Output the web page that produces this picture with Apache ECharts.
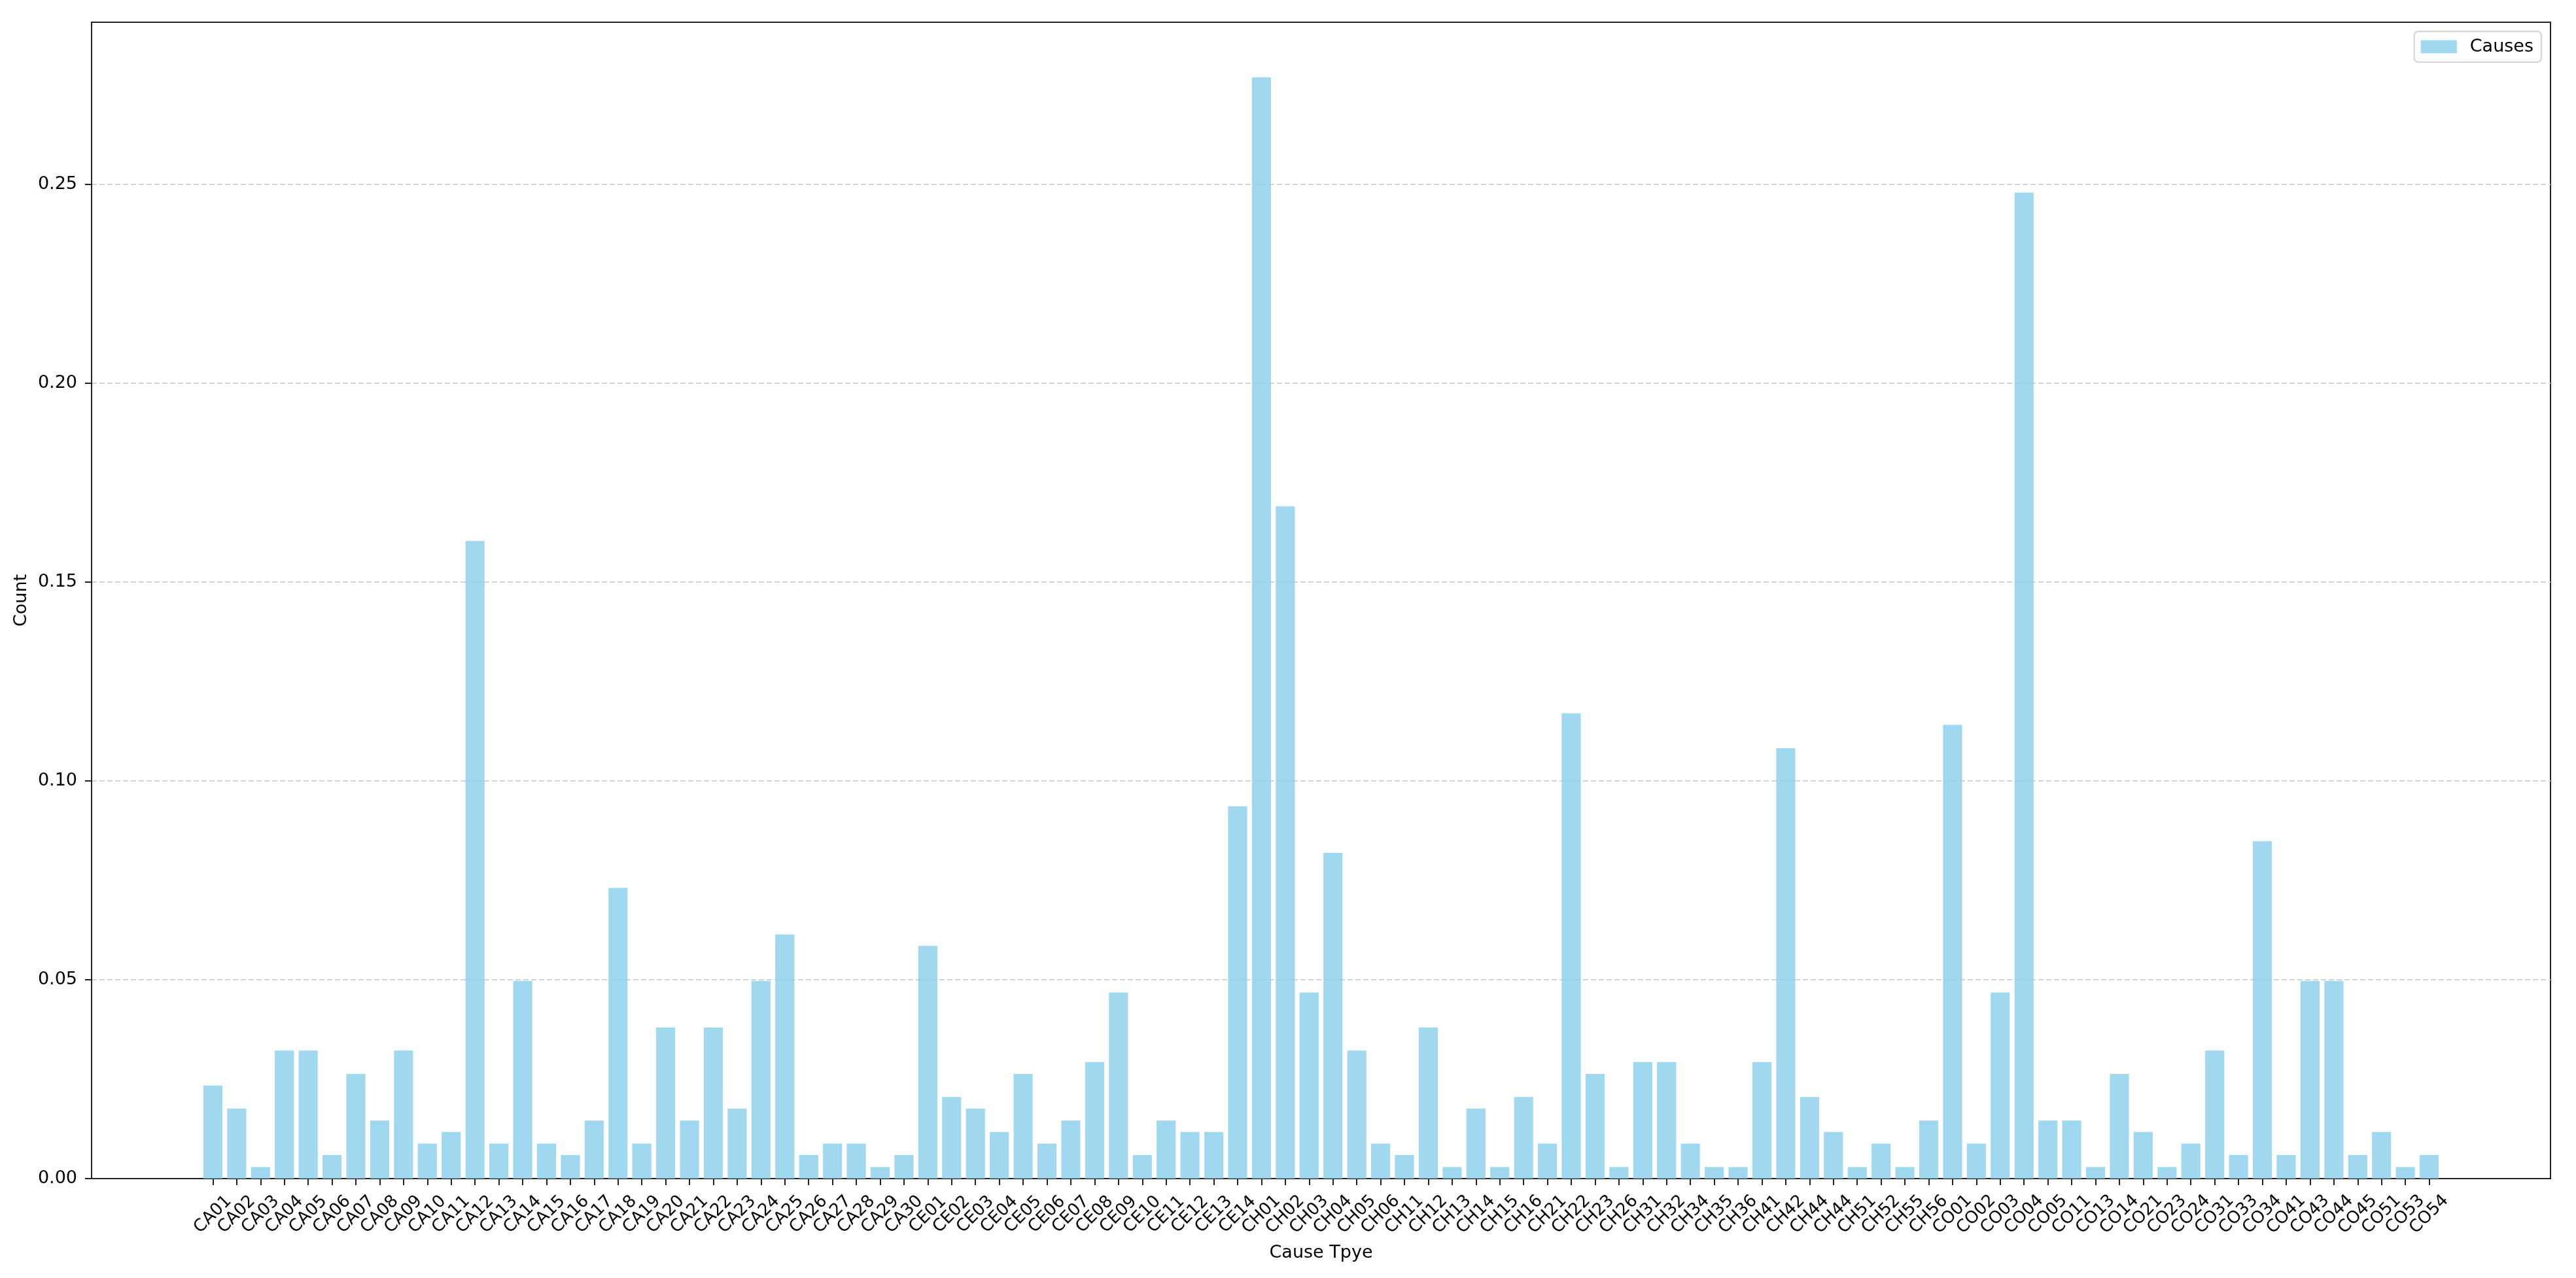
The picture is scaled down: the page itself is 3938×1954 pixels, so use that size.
<!DOCTYPE html>
<html>
<head>
<meta charset="utf-8">
<script src="https://cdn.jsdelivr.net/npm/echarts@6/dist/echarts.min.js"></script>
<style>
html,body{margin:0;padding:0;background:#ffffff;}
#chart{width:3938px;height:1954px;}
</style>
</head>
<body>
<div id="chart"></div>
<script>
// ---- data ----
const categories = [
  'CA01','CA02','CA03','CA04','CA05','CA06','CA07','CA08','CA09','CA10',
  'CA11','CA12','CA13','CA14','CA15','CA16','CA17','CA18','CA19','CA20',
  'CA21','CA22','CA23','CA24','CA25','CA26','CA27','CA28','CA29','CA30',
  'CE01','CE02','CE03','CE04','CE05','CE06','CE07','CE08','CE09','CE10',
  'CE11','CE12','CE13','CE14',
  'CH01','CH02','CH03','CH04','CH05','CH06','CH11','CH12','CH13','CH14',
  'CH15','CH16','CH21','CH22','CH23','CH26','CH31','CH32','CH34','CH35',
  'CH36','CH41','CH42','CH44','CH44','CH51','CH52','CH55','CH56',
  'CO01','CO02','CO03','CO04','CO05','CO11','CO13','CO14','CO21','CO23',
  'CO24','CO31','CO33','CO34','CO41','CO43','CO44','CO45','CO51','CO53','CO54'
];
const causeValues = [
  // CA
  0.0234,0.0176,0.0029,0.0322,0.0322,0.0059,0.0263,0.0146,0.0322,0.0088,
  0.0117,0.1603,0.0088,0.0497,0.0088,0.0059,0.0146,0.0731,0.0088,0.0380,
  0.0146,0.0380,0.0176,0.0497,0.0614,0.0059,0.0088,0.0088,0.0029,0.0059,
  // CE
  0.0585,0.0205,0.0176,0.0117,0.0263,0.0088,0.0146,0.0293,0.0468,0.0059,
  0.0146,0.0117,0.0117,0.0936,
  // CH
  0.2769,0.1690,0.0468,0.0819,0.0322,0.0088,0.0059,0.0380,0.0029,0.0176,
  0.0029,0.0205,0.0088,0.1170,0.0263,0.0029,0.0293,0.0293,0.0088,0.0029,
  0.0029,0.0293,0.1082,0.0205,0.0117,0.0029,0.0088,0.0029,0.0146,
  // CO
  0.1141,0.0088,0.0468,0.2479,0.0146,0.0146,0.0029,0.0263,0.0117,0.0029,
  0.0088,0.0322,0.0059,0.0848,0.0059,0.0497,0.0497,0.0059,0.0117,0.0029,0.0059
];
const yTickValues = [0, 0.05, 0.10, 0.15, 0.20, 0.25];
const seriesName = 'Causes';
const xAxisTitle = 'Cause Tpye';
const yAxisTitle = 'Count';

// ---- layout (matplotlib-like bar margins) ----
const FONT = 'DejaVu Sans';
const W = 3938;
const plotLeft = 140, plotRight = 39, plotTop = 34, plotBottom = 152;
const n = categories.length;
const barW = 0.8;
const span = (n - 1) + barW;
const xMin = -barW / 2 - 0.05 * span;
const xMax = (n - 1) + barW / 2 + 0.05 * span;
const pxPerUnit = (W - plotLeft - plotRight) / (xMax - xMin);
const bandLeft = plotLeft + (-0.5 - xMin) * pxPerUnit;
const bandRight = plotRight + (xMax - (n - 1 + 0.5)) * pxPerUnit;
const yMax = Math.max(...causeValues) * 1.05;

const chart = echarts.init(document.getElementById('chart'), null, {renderer: 'canvas'});
chart.setOption({
  animation: false,
  backgroundColor: '#ffffff',
  grid: [
    {
      left: plotLeft, right: plotRight, top: plotTop, bottom: plotBottom,
      containLabel: false, outerBoundsMode: 'none',
      show: true, borderColor: '#222', borderWidth: 2, backgroundColor: 'transparent'
    },
    {
      left: bandLeft, right: bandRight, top: plotTop, bottom: plotBottom,
      containLabel: false, outerBoundsMode: 'none'
    }
  ],
  legend: {
    data: [seriesName],
    right: 53, top: 48,
    icon: 'rect',
    itemWidth: 55, itemHeight: 20,
    padding: [10, 12, 10, 10],
    borderColor: '#d4d4d4', borderWidth: 2, borderRadius: 6,
    backgroundColor: '#ffffff',
    textStyle: {fontFamily: FONT, fontSize: 27, color: '#000', padding: [0, 0, 0, 15]}
  },
  xAxis: [
    {
      gridIndex: 0, type: 'value', min: 0, max: 1,
      name: xAxisTitle,
      nameLocation: 'middle',
      nameGap: 100,
      nameTextStyle: {fontFamily: FONT, fontSize: 27, color: '#000'},
      axisLine: {show: true, onZero: false, lineStyle: {color: '#222', width: 2}},
      axisTick: {show: false},
      axisLabel: {show: false},
      splitLine: {show: false}
    },
    {
      gridIndex: 1, type: 'category',
      data: categories,
      dedplication: false,
      boundaryGap: true,
      axisLine: {show: false, onZero: false},
      axisTick: {show: true, alignWithLabel: true, interval: 0, length: 10, lineStyle: {color: '#222', width: 2}},
      axisLabel: {
        show: true,
        interval: 0,
        rotate: 45,
        align: 'center',
        verticalAlign: 'middle',
        margin: 55,
        fontFamily: FONT, fontSize: 26, color: '#000'
      },
      splitLine: {show: false}
    }
  ],
  yAxis: [
    {
      gridIndex: 0, type: 'value',
      min: 0, max: yMax, interval: 0.05,
      name: yAxisTitle,
      nameLocation: 'middle',
      nameGap: 93,
      nameTextStyle: {fontFamily: FONT, fontSize: 27, color: '#000'},
      axisLine: {show: true, onZero: false, lineStyle: {color: '#222', width: 2}},
      axisTick: {show: true, length: 10, lineStyle: {color: '#222', width: 2}, customValues: yTickValues},
      axisLabel: {
        customValues: yTickValues,
        showMinLabel: true,
        formatter: function (v) { return v.toFixed(2); },
        margin: 22,
        fontFamily: FONT, fontSize: 27, color: '#000'
      },
      splitLine: {show: true, lineStyle: {color: '#d4d4d4', width: 2, type: [8, 4]}}
    },
    {
      gridIndex: 1, type: 'value',
      min: 0, max: yMax,
      show: false,
      splitLine: {show: false}
    }
  ],
  series: [{
    name: seriesName,
    type: 'bar',
    xAxisIndex: 1, yAxisIndex: 1,
    barWidth: '80%',
    data: causeValues,
    itemStyle: {color: 'rgba(135,206,235,0.8)'}
  }]
});
</script>
</body>
</html>
